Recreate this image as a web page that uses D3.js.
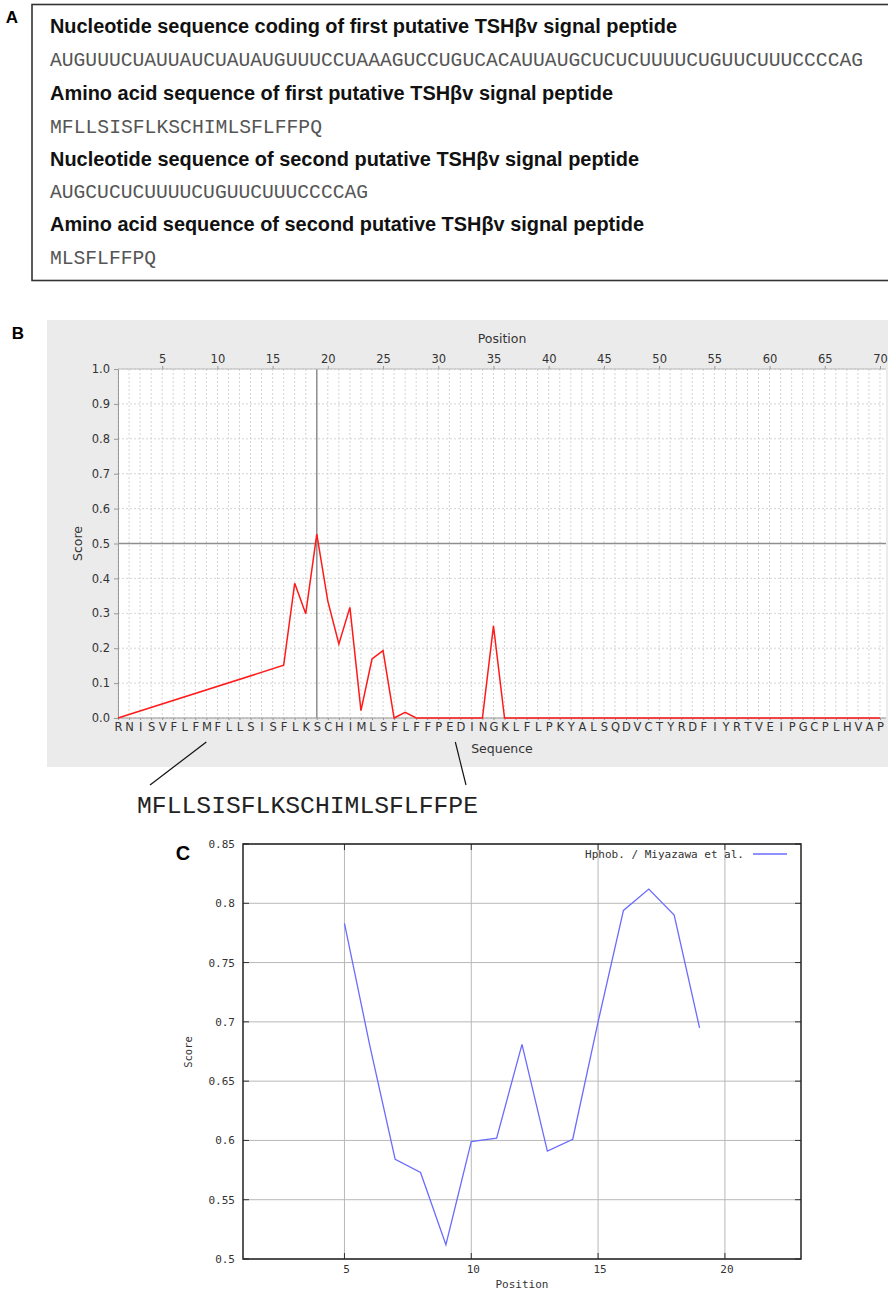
<!DOCTYPE html>
<html><head><meta charset="utf-8">
<script src="https://cdn.jsdelivr.net/npm/d3@7"></script>
<style>body{margin:0;background:#fff}</style>
</head><body>
<svg id="chart" width="888" height="1290"></svg>
<script>
// ---------- Panel A data ----------
const panelAHeadings = [
  "Nucleotide sequence coding of first putative TSHβv signal peptide",
  "Amino acid sequence of first putative TSHβv signal peptide",
  "Nucleotide sequence of second putative TSHβv signal peptide",
  "Amino acid sequence of second putative TSHβv signal peptide"
];
const panelASequences = [
  "AUGUUUCUAUUAUCUAUAUGUUUCCUAAAGUCCUGUCACAUUAUGCUCUCUUUUCUGUUCUUUCCCCAG",
  "MFLLSISFLKSCHIMLSFLFFPQ",
  "AUGCUCUCUUUUCUGUUCUUUCCCCAG",
  "MLSFLFFPQ"
];

// ---------- Panel B data ----------
const sequenceLetters = "RNISVFLFMFLLSISFLKSCHIMLSFLFFPEDINGKLFLPKYALSQDVCTYRDFIYRTVEIPGCPLHVAP".split("");
const scorePositions = [1,16,17,18,19,20,21,22,23,24,25,26,27,28,29,30,31,32,33,34,35,36,37,38,39,40,
  41,42,43,44,45,46,47,48,49,50,51,52,53,54,55,56,57,58,59,60,61,62,63,64,65,66,67,68,69,70];
const scoreValues = [0,0.151,0.386,0.299,0.527,0.335,0.212,0.317,0.021,0.169,0.193,0,0.016,0,0,0,0,0,0,0,0.264,0,0,0,0,0,
  0,0,0,0,0,0,0,0,0,0,0,0,0,0,0,0,0,0,0,0,0,0,0,0,0,0,0,0,0,0];
const positionTicks = [5,10,15,20,25,30,35,40,45,50,55,60,65,70];
const scoreTicks = [0,0.1,0.2,0.3,0.4,0.5,0.6,0.7,0.8,0.9,1.0];
const annotationText = "MFLLSISFLKSCHIMLSFLFFPE";

// ---------- Panel C data ----------
const hphobPositions = [5,6,7,8,9,10,11,12,13,14,15,16,17,18,19];
const hphobValues = [0.783,0.680,0.584,0.573,0.512,0.599,0.602,0.681,0.591,0.601,0.700,0.794,0.812,0.790,0.695];
const hphobXTicks = [5,10,15,20];
const hphobYTicks = [0.5,0.55,0.6,0.65,0.7,0.75,0.8,0.85];
const hphobYTickLabels = ["0.5","0.55","0.6","0.65","0.7","0.75","0.8","0.85"];

const svg = d3.select("#chart");
svg.append("rect").attr("width",888).attr("height",1290).attr("fill","#fff");

// =============== Panel A ===============
const gA = svg.append("g");
gA.append("text").attr("x",12).attr("y",23).attr("text-anchor","middle")
  .attr("font-family","Liberation Sans, Arial, sans-serif").attr("font-weight","bold").attr("font-size",17).text("A");
gA.append("rect").attr("x",32).attr("y",4.5).attr("width",858).attr("height",276)
  .attr("fill","none").attr("stroke","#333").attr("stroke-width",1.6);
const headW = [627,563,589,594];
const seqW = [813,272,318,106];
const headY = [33,100,166,231];
const seqY = [66,133,198,264];
panelAHeadings.forEach((t,i)=>{
  gA.append("text").attr("x",50).attr("y",headY[i])
    .attr("font-family","Liberation Sans, Arial, sans-serif").attr("font-weight","bold").attr("font-size",20)
    .attr("textLength",headW[i]).attr("lengthAdjust","spacingAndGlyphs").attr("fill","#111").text(t);
});
panelASequences.forEach((t,i)=>{
  gA.append("text").attr("x",50).attr("y",seqY[i])
    .attr("font-family","Courier New, Liberation Mono, monospace").attr("font-size",19.5)
    .attr("textLength",seqW[i]).attr("lengthAdjust","spacingAndGlyphs").attr("fill","#555").text(t);
});

// =============== Panel B ===============
const gB = svg.append("g");
gB.append("text").attr("x",18).attr("y",339).attr("text-anchor","middle")
  .attr("font-family","Liberation Sans, Arial, sans-serif").attr("font-weight","bold").attr("font-size",17).text("B");
gB.append("rect").attr("x",47).attr("y",320).attr("width",841).attr("height",447).attr("fill","#ebebeb");

const xB = d3.scaleLinear().domain([1,70]).range([118,880]);
const yB = d3.scaleLinear().domain([0,1]).range([718,369]);
const plotRight = 886;
gB.append("rect").attr("x",xB(1)).attr("y",yB(1)).attr("width",plotRight-xB(1)).attr("height",yB(0)-yB(1)).attr("fill","#fff");

const allPos = sequenceLetters.map((d,i)=>i+1);
// dashed grid
gB.append("g").selectAll("line").data(allPos).join("line")
  .attr("x1",d=>xB(d)).attr("x2",d=>xB(d)).attr("y1",yB(1)).attr("y2",yB(0))
  .attr("stroke","#d4d4d4").attr("stroke-width",1).attr("stroke-dasharray","2,2");
gB.append("g").selectAll("line").data(scoreTicks).join("line")
  .attr("x1",xB(1)).attr("x2",plotRight).attr("y1",d=>yB(d)).attr("y2",d=>yB(d))
  .attr("stroke","#d4d4d4").attr("stroke-width",1).attr("stroke-dasharray","2,2");
// crosshair
gB.append("line").attr("x1",xB(19)).attr("x2",xB(19)).attr("y1",yB(1)).attr("y2",yB(0))
  .attr("stroke","#8f8f8f").attr("stroke-width",1.5);
gB.append("line").attr("x1",xB(1)).attr("x2",plotRight).attr("y1",yB(0.5)).attr("y2",yB(0.5))
  .attr("stroke","#8f8f8f").attr("stroke-width",1.5);
// plot top border
gB.append("line").attr("x1",xB(1)).attr("x2",plotRight).attr("y1",yB(1)).attr("y2",yB(1)).attr("stroke","#bbb");

const fB = "DejaVu Sans, Verdana, sans-serif";
function styleAxis(g, fs){
  g.selectAll("path.domain").attr("stroke","#999");
  g.selectAll(".tick line").attr("stroke","#999");
  g.selectAll(".tick text").attr("font-family",fB).attr("font-size",fs).attr("fill","#333");
}
const axL = gB.append("g").attr("transform",`translate(${xB(1)},0)`)
  .call(d3.axisLeft(yB).tickValues(scoreTicks).tickFormat(d3.format(".1f")).tickSize(4).tickSizeOuter(0).tickPadding(4));
styleAxis(axL, 11.5);
const axBot = gB.append("g").attr("transform",`translate(0,${yB(0)})`)
  .call(d3.axisBottom(xB).tickValues(allPos).tickFormat(d=>sequenceLetters[d-1]).tickSize(2).tickSizeOuter(0).tickPadding(3));
styleAxis(axBot, 11.5);
axBot.select("path.domain").attr("d",`M0,0H${plotRight}`).attr("transform",`translate(0,0)`);
axBot.select("path.domain").attr("d",`M${xB(1)},0H${plotRight}`);
const axTop = gB.append("g").attr("transform",`translate(0,${yB(1)})`)
  .call(d3.axisTop(xB).tickValues(positionTicks).tickSize(3).tickSizeOuter(0).tickPadding(3));
styleAxis(axTop, 11.5);
axTop.select("path.domain").remove();

gB.append("text").attr("x",(xB(1)+plotRight)/2).attr("y",343).attr("text-anchor","middle")
  .attr("font-family",fB).attr("font-size",12.5).attr("fill","#333").text("Position");
gB.append("text").attr("x",(xB(1)+plotRight)/2).attr("y",753).attr("text-anchor","middle")
  .attr("font-family",fB).attr("font-size",12.5).attr("fill","#333").text("Sequence");
gB.append("text").attr("transform",`translate(82,${yB(0.5)}) rotate(-90)`).attr("text-anchor","middle")
  .attr("font-family",fB).attr("font-size",12.5).attr("fill","#333").text("Score");

const lineB = d3.line().x((d,i)=>xB(scorePositions[i])).y(d=>yB(d));
gB.append("path").datum(scoreValues).attr("d",lineB).attr("fill","none")
  .attr("stroke","#ff1a1a").attr("stroke-width",1.5).attr("stroke-linejoin","miter");

// annotation
svg.append("line").attr("x1",xB(9)).attr("y1",742).attr("x2",150).attr("y2",785).attr("stroke","#111").attr("stroke-width",1.2);
svg.append("line").attr("x1",xB(31)+6).attr("y1",742).attr("x2",466).attr("y2",785).attr("stroke","#111").attr("stroke-width",1.2);
svg.append("text").attr("x",137).attr("y",813).attr("font-family","Courier New, Liberation Mono, monospace")
  .attr("font-size",24.5).attr("textLength",341).attr("lengthAdjust","spacingAndGlyphs").attr("fill","#222").text(annotationText);

// =============== Panel C ===============
const gC = svg.append("g");
gC.append("text").attr("x",183).attr("y",860).attr("text-anchor","middle")
  .attr("font-family","Liberation Sans, Arial, sans-serif").attr("font-weight","bold").attr("font-size",20).text("C");
const xC = d3.scaleLinear().domain([1,23]).range([243,801]);
const yC = d3.scaleLinear().domain([0.5,0.85]).range([1259,844]);
const fC = "DejaVu Sans Mono, Liberation Mono, monospace";
// grid
gC.append("g").selectAll("line").data(hphobXTicks).join("line")
  .attr("x1",d=>xC(d)).attr("x2",d=>xC(d)).attr("y1",yC(0.85)).attr("y2",yC(0.5))
  .attr("stroke","#b8b8b8").attr("stroke-width",1);
gC.append("g").selectAll("line").data(hphobYTicks).join("line")
  .attr("x1",xC(1)).attr("x2",xC(23)).attr("y1",d=>yC(d)).attr("y2",d=>yC(d))
  .attr("stroke","#b8b8b8").attr("stroke-width",1);
// inward ticks
const tk = gC.append("g").attr("stroke","#333").attr("stroke-width",1);
hphobXTicks.forEach(d=>{
  tk.append("line").attr("x1",xC(d)).attr("x2",xC(d)).attr("y1",yC(0.5)).attr("y2",yC(0.5)-6);
  tk.append("line").attr("x1",xC(d)).attr("x2",xC(d)).attr("y1",yC(0.85)).attr("y2",yC(0.85)+6);
});
hphobYTicks.forEach(d=>{
  tk.append("line").attr("x1",xC(1)).attr("x2",xC(1)+6).attr("y1",yC(d)).attr("y2",yC(d));
  tk.append("line").attr("x1",xC(23)).attr("x2",xC(23)-6).attr("y1",yC(d)).attr("y2",yC(d));
});
gC.append("rect").attr("x",xC(1)).attr("y",yC(0.85)).attr("width",xC(23)-xC(1)).attr("height",yC(0.5)-yC(0.85))
  .attr("fill","none").attr("stroke","#222").attr("stroke-width",1.5);
// tick labels
gC.append("g").selectAll("text").data(hphobYTicks).join("text")
  .attr("x",235).attr("y",d=>yC(d)+4).attr("text-anchor","end")
  .attr("font-family",fC).attr("font-size",11).attr("fill","#333").text((d,i)=>hphobYTickLabels[i]);
gC.append("g").selectAll("text").data(hphobXTicks).join("text")
  .attr("x",d=>xC(d)+2).attr("y",1273).attr("text-anchor","middle")
  .attr("font-family",fC).attr("font-size",11).attr("fill","#333").text(d=>d);
gC.append("text").attr("x",(xC(1)+xC(23))/2).attr("y",1288).attr("text-anchor","middle")
  .attr("font-family",fC).attr("font-size",11).attr("fill","#333").text("Position");
gC.append("text").attr("transform",`translate(192,1052) rotate(-90)`).attr("text-anchor","middle")
  .attr("font-family",fC).attr("font-size",10.5).attr("fill","#333").text("Score");
// legend
gC.append("text").attr("x",744).attr("y",858).attr("text-anchor","end")
  .attr("font-family",fC).attr("font-size",11).attr("fill","#333").text("Hphob. / Miyazawa et al.");
gC.append("line").attr("x1",753).attr("x2",787).attr("y1",854).attr("y2",854).attr("stroke","#6b6bff").attr("stroke-width",1.3);
// line
const lineC = d3.line().x((d,i)=>xC(hphobPositions[i])).y(d=>yC(d));
gC.append("path").datum(hphobValues).attr("d",lineC).attr("fill","none")
  .attr("stroke","#6b6bff").attr("stroke-width",1.3);
</script>
</body></html>
